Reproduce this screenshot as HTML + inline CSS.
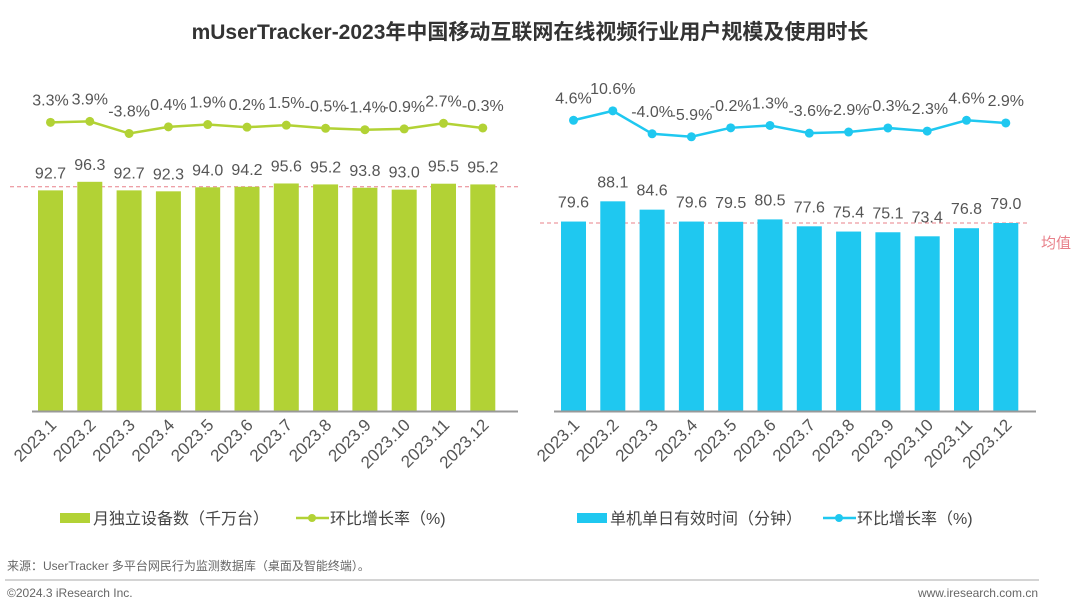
<!DOCTYPE html>
<html><head><meta charset="utf-8">
<style>
html,body{margin:0;padding:0;background:#fff;}
body{width:1080px;height:603px;overflow:hidden;font-family:"Liberation Sans","Noto Sans CJK SC",sans-serif;}
svg{display:block}
</style></head>
<body>
<svg id="chart" width="1080" height="603" viewBox="0 0 1080 603" xmlns="http://www.w3.org/2000/svg" font-family="Liberation Sans, Noto Sans CJK SC, sans-serif">
<text x="530" y="39" text-anchor="middle" font-size="21" font-weight="bold" fill="#333">mUserTracker-2023年中国移动互联网在线视频行业用户规模及使用时长</text>
<g id="left"></g>
<g id="right"></g>
<text x="1041" y="248" font-size="15" fill="#e8808a">均值</text>
<g>
<rect x="60" y="513" width="30" height="10" fill="#B2D235"/>
<text x="93" y="524" font-size="16" fill="#444">月独立设备数（千万台）</text>
<line x1="296" y1="518" x2="329" y2="518" stroke="#B2D235" stroke-width="2.5"/>
<circle cx="312" cy="518" r="4" fill="#B2D235"/>
<text x="330" y="524" font-size="16" fill="#444">环比增长率（%)</text>
</g>
<g>
<rect x="577" y="513" width="30" height="10" fill="#1FC8F0"/>
<text x="610" y="524" font-size="16" fill="#444">单机单日有效时间（分钟）</text>
<line x1="823" y1="518" x2="856" y2="518" stroke="#1FC8F0" stroke-width="2.5"/>
<circle cx="839" cy="518" r="4" fill="#1FC8F0"/>
<text x="857" y="524" font-size="16" fill="#444">环比增长率（%)</text>
</g>
<text x="7" y="570" font-size="12" fill="#666">来源：UserTracker 多平台网民行为监测数据库（桌面及智能终端）。</text>
<line x1="5" y1="580" x2="1039" y2="580" stroke="#aaa" stroke-width="1"/>
<text x="7" y="597" font-size="12" fill="#666">©2024.3 iResearch Inc.</text>
<text x="1038" y="597" text-anchor="end" font-size="12" fill="#666">www.iresearch.com.cn</text>
</svg>
<script>
const months = ["2023.1","2023.2","2023.3","2023.4","2023.5","2023.6","2023.7","2023.8","2023.9","2023.10","2023.11","2023.12"];
const devices = [92.7,96.3,92.7,92.3,94.0,94.2,95.6,95.2,93.8,93.0,95.5,95.2];
const devicesGrowth = [3.3,3.9,-3.8,0.4,1.9,0.2,1.5,-0.5,-1.4,-0.9,2.7,-0.3];
const devicesAvg = 94.2;
const minutes = [79.6,88.1,84.6,79.6,79.5,80.5,77.6,75.4,75.1,73.4,76.8,79.0];
const minutesGrowth = [4.6,10.6,-4.0,-5.9,-0.2,1.3,-3.6,-2.9,-0.3,-2.3,4.6,2.9];
const minutesAvg = 79.0;

const NS="http://www.w3.org/2000/svg";
function mk(parent,tag,attrs){const e=document.createElementNS(NS,tag);for(const k in attrs)e.setAttribute(k,attrs[k]);parent.appendChild(e);return e;}

function panel(g,cfg){
  const x0=cfg.x0, step=39.3, bw=25, base=411;
  const xc=i=>x0+i*step+bw/2;
  const yBar=v=>base-v*2.38;
  const yLine=v=>cfg.zero-v*1.57;
  const av=mk(g,'line',{x1:cfg.avgX1,x2:cfg.avgX2,y1:yBar(cfg.avg),y2:yBar(cfg.avg),stroke:'#e8808a','stroke-width':1,'stroke-dasharray':'4,3'});
  
  
  cfg.bars.forEach((v,i)=>{
    const r=mk(g,'rect',{x:xc(i)-bw/2,y:yBar(v),width:bw,height:base-yBar(v),fill:cfg.color});
    
    
    const t=mk(g,'text',{x:xc(i),y:yBar(v)-cfg.lblOff,'text-anchor':'middle','font-size':16,fill:'#555'});
    t.textContent=v.toFixed(1);
    
    
  });
  const ax=mk(g,'line',{x1:cfg.axX1,x2:cfg.axX2,y1:base+0.5,y2:base+0.5,stroke:'#999','stroke-width':2});
  
  
  const pts=cfg.growth.map((v,i)=>xc(i)+','+yLine(v)).join(' ');
  const pl=mk(g,'polyline',{points:pts,fill:'none',stroke:cfg.color,'stroke-width':2.5});
  
  
  cfg.growth.forEach((v,i)=>{
    const c=mk(g,'circle',{cx:xc(i),cy:yLine(v),r:4.5,fill:cfg.color});
    
    
    const t=mk(g,'text',{x:xc(i),y:yLine(v)-17,'text-anchor':'middle','font-size':16,fill:'#555'});
    t.textContent=v.toFixed(1)+'%';
    
    
  });
  months.forEach((m,i)=>{
    const x=xc(i)+7, y=426;
    const t=mk(g,'text',{x:x,y:y,'text-anchor':'end','font-size':17,fill:'#555',transform:`rotate(-45 ${x} ${y})`});
    t.textContent=m;
    
    
  });
}
panel(document.getElementById('left'),{x0:38,bars:devices,growth:devicesGrowth,avg:devicesAvg,color:'#B2D235',zero:127.5,avgX1:10,avgX2:520,axX1:32,axX2:518,lblOff:12});
panel(document.getElementById('right'),{x0:561,bars:minutes,growth:minutesGrowth,avg:minutesAvg,color:'#1FC8F0',zero:127.5,avgX1:540,avgX2:1030,axX1:554,axX2:1036,lblOff:14});
</script>
</body></html>
